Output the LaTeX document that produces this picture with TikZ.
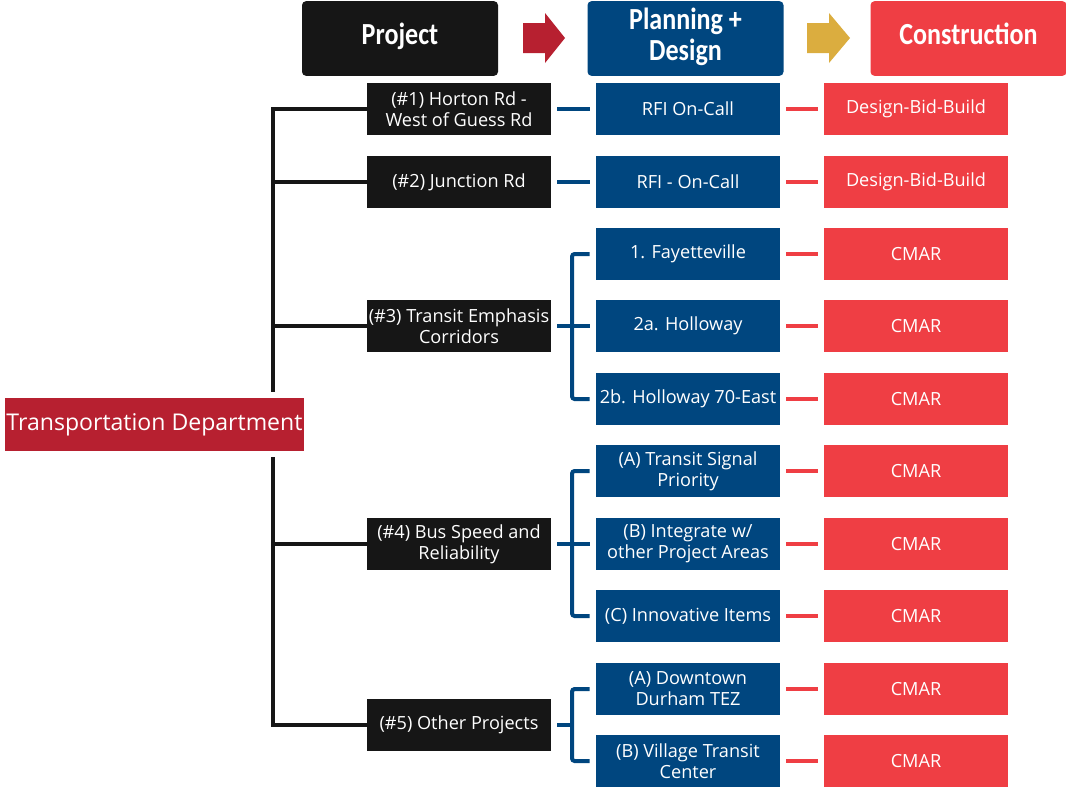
\documentclass[tikz,border=0pt]{standalone}
\usepackage{fontspec}
\setmainfont{Open Sans}[Ligatures=NoCommon]
\newfontfamily\headfont{Carlito}
\usepackage{graphicx}
\usepackage{tikz}
\usetikzlibrary{calc}

\definecolor{projblack}{HTML}{161616}
\definecolor{planblue}{HTML}{00467F}
\definecolor{buildred}{HTML}{EF3E44}
\definecolor{deptred}{HTML}{B72030}
\definecolor{arrowgold}{HTML}{DBAD3F}

\newcommand{\hdtext}[1]{\raisebox{-1.5pt}{\scalebox{0.85}[1]{\begin{tabular}{@{}c@{}}#1\end{tabular}}}}

\tikzset{
  box/.style={inner sep=0pt, minimum width=138pt, minimum height=39pt, text=white, align=center, font=\fontsize{13.6}{15.75}\selectfont},
  projbox/.style={box, fill=projblack},
  planbox/.style={box, fill=planblue},
  buildbox/.style={box, fill=buildred},
  headbox/.style={inner sep=0pt, rounded corners=3pt, minimum width=147pt, minimum height=56pt, text=white, font=\headfont\fontsize{23}{22.5}\selectfont\bfseries},
  treeline/.style={line width=3.4pt, projblack},
  blueline/.style={line width=3pt, planblue},
  redline/.style={line width=3pt, buildred}
}

\begin{document}
\begin{tikzpicture}[x=0.75pt, y=-0.75pt]
\useasboundingbox (0,0) rectangle (1066,790);

% headers
\node (hproj) at (400, 38.5) [headbox, fill=projblack]{\hdtext{Project}};
\node (hplan) at (685.5, 38.5) [headbox, fill=planblue]{\hdtext{Planning +\\Design}};
\node (hbuild) at (968.5, 38.5) [headbox, fill=buildred]{\hdtext{Construction}};
\fill[deptred] (523, 23) -- (545, 23) -- (545, 13) -- (565, 38) -- (545, 63) -- (545, 53) -- (523, 53) -- cycle;
\fill[arrowgold] (807, 23) -- (829, 23) -- (829, 13) -- (850, 38) -- (829, 63) -- (829, 53) -- (807, 53) -- cycle;

% department
\node (td) at (154.5, 424.5) [inner sep=0pt, minimum width=224.25pt, minimum height=39.75pt, fill=deptred, text=white, font=\fontsize{17.3}{20}\selectfont]{Transportation Department};
\coordinate (spine) at (273, 0);

% projects
\node (p1) at (459, 109) [projbox]{(\#1) Horton Rd -\\West of Guess Rd};
\node (p2) at (459, 182) [projbox]{(\#2) Junction Rd};
\node (p3) at (459, 326) [projbox]{(\#3) Transit Emphasis\\Corridors};
\node (p4) at (459, 544) [projbox]{(\#4) Bus Speed and\\Reliability};
\node (p5) at (459, 725) [projbox]{(\#5) Other Projects};

% planning + design
\node (d1) at (688, 109) [planbox]{RFI On-Call};
\node (d2) at (688, 182) [planbox]{RFI - On-Call};
\node (d3) at (688, 254) [planbox]{1. Fayetteville};
\node (d4) at (688, 326) [planbox]{2a. Holloway};
\node (d5) at (688, 399) [planbox]{2b. Holloway 70-East};
\node (d6) at (688, 471) [planbox]{(A) Transit Signal\\Priority};
\node (d7) at (688, 544) [planbox]{(B) Integrate w/\\other Project Areas};
\node (d8) at (688, 616) [planbox]{(C) Innovative Items};
\node (d9) at (688, 689) [planbox]{(A) Downtown\\Durham TEZ};
\node (d10) at (688, 761) [planbox]{(B) Village Transit\\Center};

% construction
\node (c1) at (916, 109) [buildbox]{Design-Bid-Build};
\node (c2) at (916, 182) [buildbox]{Design-Bid-Build};
\node (c3) at (916, 254) [buildbox]{CMAR};
\node (c4) at (916, 326) [buildbox]{CMAR};
\node (c5) at (916, 399) [buildbox]{CMAR};
\node (c6) at (916, 471) [buildbox]{CMAR};
\node (c7) at (916, 544) [buildbox]{CMAR};
\node (c8) at (916, 616) [buildbox]{CMAR};
\node (c9) at (916, 689) [buildbox]{CMAR};
\node (c10) at (916, 761) [buildbox]{CMAR};

% tree
\draw[treeline] (p1.west) -| ([yshift=4pt]spine |- td.north);
\draw[treeline] (p5.west) -| ([yshift=-4pt]spine |- td.south);
\draw[treeline] (p2.west) -- (spine |- p2.west);
\draw[treeline] (p3.west) -- (spine |- p3.west);
\draw[treeline] (p4.west) -- (spine |- p4.west);

% project to planning
\coordinate (brk) at (572, 0);
\draw[blueline] ([xshift=4.5pt]p1.east) -- ([xshift=-4.5pt]d1.west);
\draw[blueline] ([xshift=4.5pt]p2.east) -- ([xshift=-4.5pt]d2.west);
\draw[blueline] ([xshift=4.5pt]p3.east) -- ([xshift=-4.5pt]d4.west);
\draw[blueline, rounded corners=2pt] ([xshift=-4.5pt]d3.west) -| (brk |- d5.west) -- ([xshift=-4.5pt]d5.west);
\draw[blueline] ([xshift=4.5pt]p4.east) -- ([xshift=-4.5pt]d7.west);
\draw[blueline, rounded corners=2pt] ([xshift=-4.5pt]d6.west) -| (brk |- d8.west) -- ([xshift=-4.5pt]d8.west);
\draw[blueline] ([xshift=4.5pt]p5.east) -- (brk |- p5.east);
\draw[blueline, rounded corners=2pt] ([xshift=-4.5pt]d9.west) -| (brk |- d10.west) -- ([xshift=-4.5pt]d10.west);

% planning to construction
\draw[redline] ([xshift=4.5pt]d1.east) -- ([xshift=-4.5pt]c1.west);
\draw[redline] ([xshift=4.5pt]d2.east) -- ([xshift=-4.5pt]c2.west);
\draw[redline] ([xshift=4.5pt]d3.east) -- ([xshift=-4.5pt]c3.west);
\draw[redline] ([xshift=4.5pt]d4.east) -- ([xshift=-4.5pt]c4.west);
\draw[redline] ([xshift=4.5pt]d5.east) -- ([xshift=-4.5pt]c5.west);
\draw[redline] ([xshift=4.5pt]d6.east) -- ([xshift=-4.5pt]c6.west);
\draw[redline] ([xshift=4.5pt]d7.east) -- ([xshift=-4.5pt]c7.west);
\draw[redline] ([xshift=4.5pt]d8.east) -- ([xshift=-4.5pt]c8.west);
\draw[redline] ([xshift=4.5pt]d9.east) -- ([xshift=-4.5pt]c9.west);
\draw[redline] ([xshift=4.5pt]d10.east) -- ([xshift=-4.5pt]c10.west);
\end{tikzpicture}
\end{document}
